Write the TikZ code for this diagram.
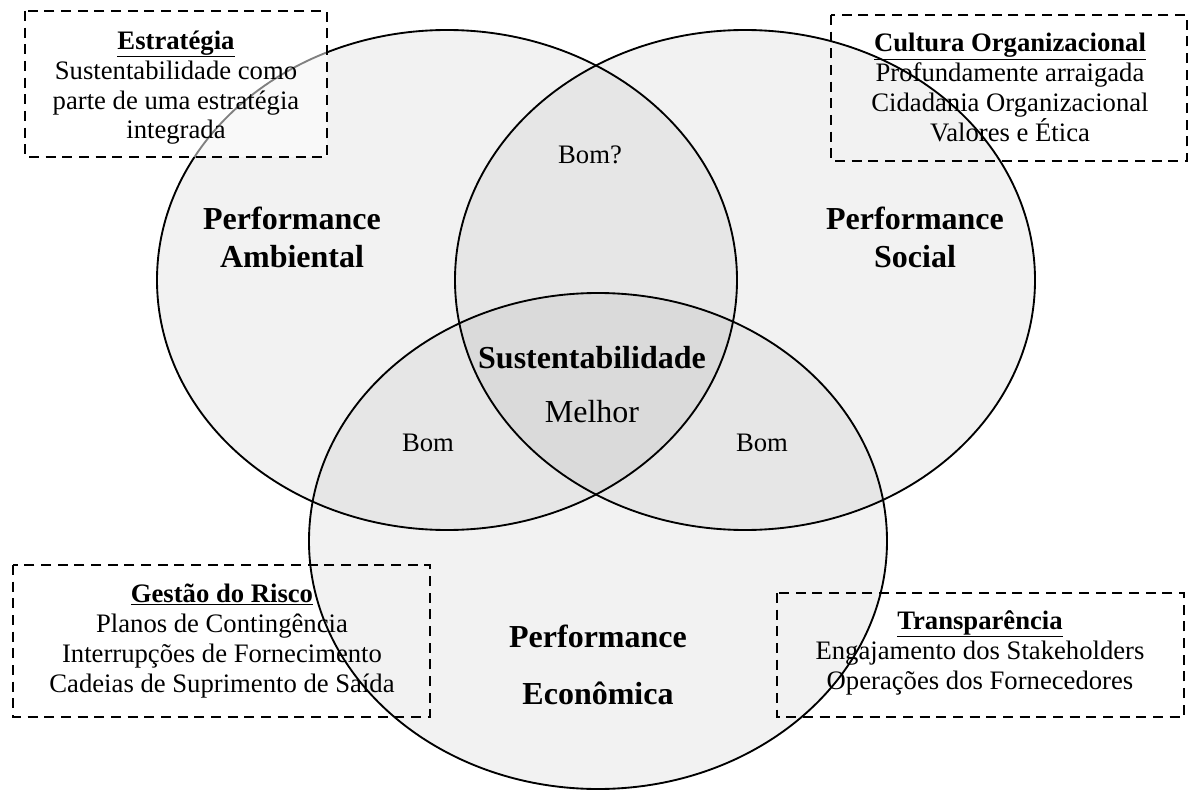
\documentclass[tikz,border=0pt]{standalone}
\usepackage{fontspec}
\setmainfont{Liberation Serif}

\tikzset{
  conjunto/.style={line width=1.4pt, fill=black, fill opacity=0.05},
  caixa/.style={line width=2pt, dash pattern=on 7.5pt off 5pt},
  rotulo/.style={font=\fontsize{24}{28.5}\selectfont\bfseries, align=center},
  texto/.style={font=\fontsize{20}{22.5}\selectfont, align=center},
}

\begin{document}
\begin{tikzpicture}[x=0.75pt,y=0.75pt,yscale=-1,xscale=1]

  \useasboundingbox (0,0) rectangle (1190,792);

  %Shape: Ellipse [ambiental]
  \draw[conjunto] (447,280) ellipse (290 and 250);
  %Shape: Ellipse [social]
  \draw[conjunto] (745,280) ellipse (290 and 250);
  %Shape: Ellipse [economica]
  \draw[conjunto] (598,541) ellipse (289 and 248);

  %Shape: Rectangle [estrategia]
  \draw[caixa, fill=white, fill opacity=0.5] (25,11) rectangle (327,157);
  %Shape: Rectangle [cultura]
  \draw[caixa] (831,15) rectangle (1187,161);
  %Shape: Rectangle [risco]
  \draw[caixa] (13,565) rectangle (430,717);
  %Shape: Rectangle [transparencia]
  \draw[caixa] (777,593) rectangle (1184,717);

  % circle labels
  \node[rotulo] (ambiental) at (292,237) {Performance\\Ambiental};
  \node[rotulo] (social) at (915,237) {Performance\\Social};
  \node[rotulo, font=\fontsize{24}{42.75}\selectfont\bfseries] (economica) at (598,665) {Performance\\Econômica};

  % overlaps
  \node[texto] (bomtopo) at (590,155) {Bom?};
  \node[texto] (bomesq) at (428,443) {Bom};
  \node[texto] (bomdir) at (762,443) {Bom};
  \node[rotulo] (sustentabilidade) at (592,358) {Sustentabilidade};
  \node[texto, font=\fontsize{24}{28}\selectfont] (melhor) at (592,412) {Melhor};

  % box texts (base = last line)
  \node[texto, anchor=base] (estrategia) at (176,139) {\underline{\textbf{Estratégia}}\\Sustentabilidade como\\parte de uma estratégia\\integrada};
  \node[texto, anchor=base] (cultura) at (1010,142) {\underline{\textbf{Cultura Organizacional}}\\Profundamente arraigada\\Cidadania Organizacional\\Valores e Ética};
  \node[texto, anchor=base] (risco) at (222,692) {\underline{\textbf{Gestão do Risco}}\\Planos de Contingência\\Interrupções de Fornecimento\\Cadeias de Suprimento de Saída};
  \node[texto, anchor=base] (transparencia) at (980,689) {\underline{\textbf{Transparência}}\\Engajamento dos Stakeholders\\Operações dos Fornecedores};

\end{tikzpicture}
\end{document}
